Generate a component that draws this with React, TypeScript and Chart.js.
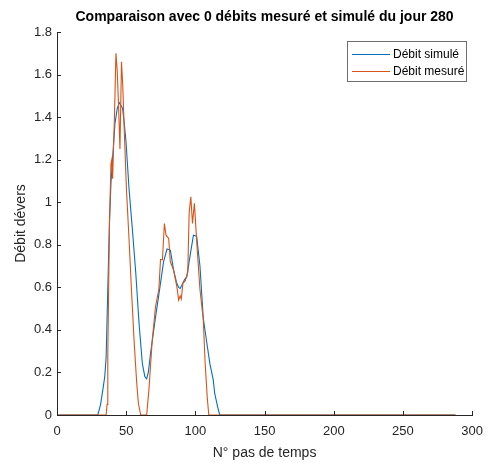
import React, { useEffect, useRef } from "react";
import { Chart, registerables } from "chart.js";

Chart.register(...registerables);

const titleText = "Comparaison avec 0 débits mesuré et simulé du jour 280";
const xAxisTitle = "N° pas de temps";
const yAxisTitle = "Débit dévers";
const seriesNames = ["Débit simulé", "Débit mesuré"];
const seriesColors = ["#0072BD", "#D95319"];

const xTicks = [0, 50, 100, 150, 200, 250, 300];
const yTicks = [0, 0.2, 0.4, 0.6, 0.8, 1, 1.2, 1.4, 1.6, 1.8];

const simT = [0, 29.5, 31.5, 33.1, 34.5, 35.5, 36.7, 37.9, 39, 40.2, 41.9, 43.5, 45, 46.3, 47.4, 48.6, 49.8, 52.1, 54.5, 56.9, 59.3, 61.7, 63.5, 64.8, 66, 67.6, 71.2, 74.8, 77, 79.5, 81.9, 84.3, 86.5, 87.9, 89, 90.2, 92.1, 93.8, 96.2, 98.6, 100.9, 103.3, 105.7, 108, 110.5, 112.9, 114, 116, 117.6, 288];
const simV = [0, 0, 0.05, 0.117, 0.18, 0.27, 0.59, 0.9, 1.09, 1.21, 1.37, 1.44, 1.468, 1.455, 1.44, 1.37, 1.29, 1.06, 0.87, 0.67, 0.43, 0.24, 0.18, 0.17, 0.2, 0.29, 0.46, 0.62, 0.72, 0.78, 0.775, 0.68, 0.62, 0.6, 0.595, 0.61, 0.635, 0.65, 0.75, 0.845, 0.84, 0.7, 0.455, 0.35, 0.24, 0.165, 0.1, 0.04, 0, 0];

const mesT = [0, 35.5, 36.2, 36.7, 37.9, 39, 39.6, 40.2, 41.5, 42.6, 43.5, 44.5, 45.5, 46.6, 47.5, 48.6, 50.2, 52.1, 53.8, 55.7, 57.6, 58.8, 60.5, 64.8, 66.4, 68.8, 71.2, 73.6, 74.8, 76.2, 77.6, 78.8, 80.7, 81.9, 84.3, 86.7, 87.9, 89, 89.8, 91, 92.6, 94.5, 95.5, 96.7, 97.9, 99.3, 101, 103.3, 105.7, 107, 108.6, 109.7, 288];
const mesV = [0, 0, 0.05, 0.27, 0.9, 1.18, 1.2, 1.11, 1.4, 1.7, 1.62, 1.45, 1.25, 1.66, 1.55, 1.34, 1.06, 0.82, 0.59, 0.35, 0.15, 0.055, 0, 0, 0.117, 0.35, 0.51, 0.59, 0.73, 0.73, 0.9, 0.845, 0.83, 0.72, 0.68, 0.6, 0.54, 0.56, 0.545, 0.62, 0.63, 0.67, 0.95, 1.026, 0.9, 0.995, 0.81, 0.59, 0.45, 0.25, 0.08, 0, 0];

const AXIS_COLOR = "#262626";
const FONT = "'Liberation Sans', Arial, Helvetica, sans-serif";

const inwardTicks = {
  id: "inwardTicks",
  afterDraw(chart: any) {
    const { ctx, chartArea, scales } = chart;
    ctx.save();
    ctx.strokeStyle = AXIS_COLOR;
    ctx.lineWidth = 1;
    ctx.beginPath();
    xTicks.forEach((t) => {
      const px = Math.round(scales.x.getPixelForValue(t)) + 0.5;
      ctx.moveTo(px, chartArea.bottom);
      ctx.lineTo(px, chartArea.bottom - 4);
    });
    yTicks.forEach((t) => {
      const py = Math.round(scales.y.getPixelForValue(t)) + 0.5;
      ctx.moveTo(chartArea.left, py);
      ctx.lineTo(chartArea.left + 4, py);
    });
    ctx.stroke();

    // legend
    const bx = 347.5, by = 41.5, bw = 119, bh = 40;
    ctx.fillStyle = "#ffffff";
    ctx.fillRect(bx, by, bw, bh);
    ctx.strokeStyle = "#6e6e6e";
    ctx.strokeRect(bx, by, bw, bh);
    const rows = [54.5, 71.5];
    rows.forEach((ry, i) => {
      ctx.strokeStyle = seriesColors[i];
      ctx.beginPath();
      ctx.moveTo(352, ry);
      ctx.lineTo(390, ry);
      ctx.stroke();
      ctx.fillStyle = "#000000";
      ctx.font = `12px ${FONT}`;
      ctx.textBaseline = "middle";
      ctx.textAlign = "left";
      ctx.fillText(seriesNames[i], 393, ry);
    });
    ctx.restore();
  },
};

export default function App() {
  const ref = useRef<HTMLCanvasElement | null>(null);
  useEffect(() => {
    document.body.style.margin = "0";
    if (!ref.current) return;
    const simData = simT.map((t, i) => ({ x: t, y: simV[i] }));
    const mesData = mesT.map((t, i) => ({ x: t, y: mesV[i] }));
    const chart = new Chart(ref.current, {
      type: "line",
      data: {
        datasets: [
          {
            label: seriesNames[0],
            data: simData,
            borderColor: seriesColors[0],
            backgroundColor: seriesColors[0],
            borderWidth: 1.1,
            pointRadius: 0,
            tension: 0,
            order: 2,
          },
          {
            label: seriesNames[1],
            data: mesData,
            borderColor: seriesColors[1],
            backgroundColor: seriesColors[1],
            borderWidth: 1.1,
            pointRadius: 0,
            tension: 0,
            order: 1,
          },
        ],
      },
      options: {
        animation: false,
        responsive: false,
        maintainAspectRatio: false,
        layout: { padding: { left: 0, right: 15, top: 0, bottom: 0 } },
        plugins: {
          legend: { display: false },
          tooltip: { enabled: false },
          title: {
            display: true,
            text: titleText,
            fullSize: false,
            color: "#000000",
            font: { family: FONT, size: 14, weight: "bold" },
            padding: { top: 8.6, bottom: 6.6 },
          },
        },
        scales: {
          x: {
            type: "linear",
            min: 0,
            max: 300,
            afterBuildTicks: (s: any) => {
              s.ticks = xTicks.map((v) => ({ value: v }));
            },
            afterFit: (s: any) => {
              s.height = 49;
            },
            grid: { display: false, drawTicks: false },
            border: { display: true, color: AXIS_COLOR, width: 1 },
            ticks: {
              color: AXIS_COLOR,
              font: { family: FONT, size: 13 },
              padding: 9,
              maxRotation: 0,
              autoSkip: false,
            },
            title: {
              display: true,
              text: xAxisTitle,
              color: AXIS_COLOR,
              font: { family: FONT, size: 14 },
              padding: { top: 0, bottom: 2.6 },
            },
          },
          y: {
            type: "linear",
            min: 0,
            max: 1.8,
            afterBuildTicks: (s: any) => {
              s.ticks = yTicks.map((v) => ({ value: v }));
            },
            afterFit: (s: any) => {
              s.width = 57;
            },
            grid: { display: false, drawTicks: false },
            border: { display: true, color: AXIS_COLOR, width: 1 },
            ticks: {
              color: AXIS_COLOR,
              font: { family: FONT, size: 13 },
              padding: 5,
              autoSkip: false,
              callback: (v: any) => String(Math.round(Number(v) * 10) / 10),
            },
            title: {
              display: true,
              text: yAxisTitle,
              color: AXIS_COLOR,
              font: { family: FONT, size: 14 },
              padding: { top: 12.6, bottom: 0 },
            },
          },
        },
      },
      plugins: [inwardTicks],
    });
    return () => chart.destroy();
  }, []);
  return (
    <div style={{ width: 492, height: 464 }}>
      <canvas ref={ref} width={492} height={464} style={{ display: "block" }} />
    </div>
  );
}
